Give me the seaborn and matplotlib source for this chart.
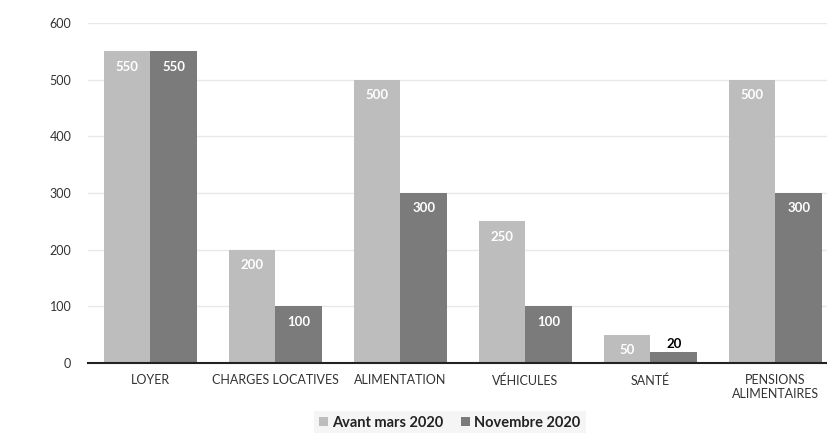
import matplotlib
matplotlib.use("Agg")
import matplotlib.pyplot as plt
import seaborn as sns
import pandas as pd

categories = ["LOYER", "CHARGES LOCATIVES", "ALIMENTATION", "VÉHICULES", "SANTÉ",
              "PENSIONS\nALIMENTAIRES"]
series_names = ["Avant mars 2020", "Novembre 2020"]
avant = [550, 200, 500, 250, 50, 500]
novembre = [550, 100, 300, 100, 20, 300]
y_ticks = [0, 100, 200, 300, 400, 500, 600]

df = pd.DataFrame({
    "categorie": categories * 2,
    "periode": [series_names[0]] * len(categories) + [series_names[1]] * len(categories),
    "montant": avant + novembre,
})

sns.set_theme(style="white")
plt.rcParams["font.family"] = ["Lato", "DejaVu Sans"]

colors = {series_names[0]: "#bdbdbd", series_names[1]: "#7b7b7b"}

fig = plt.figure(figsize=(8.28, 4.33), dpi=100)
ax = fig.add_axes([88 / 828, 70 / 433, 750 / 828, 340 / 433])

sns.barplot(data=df, x="categorie", y="montant", hue="periode", order=categories,
            hue_order=series_names, palette=colors, width=0.75, gap=0,
            saturation=1, edgecolor="none", linewidth=0, ax=ax)

ax.set_xlim(-0.5, len(categories) - 0.5)
ax.set_ylim(0, 600)
ax.set_yticks(y_ticks)
ax.set_yticklabels([str(v) for v in y_ticks])
ax.yaxis.grid(True, color="#e8e8e8", linewidth=1)
ax.set_axisbelow(True)
ax.set_xlabel("")
ax.set_ylabel("")

for side in ["top", "right", "left"]:
    ax.spines[side].set_visible(False)
ax.spines["bottom"].set_color("#222222")
ax.spines["bottom"].set_linewidth(1.5)

ax.tick_params(axis="y", length=0, labelsize=9, labelcolor="#333333", pad=12)
ax.tick_params(axis="x", which="major", length=0, labelsize=9, labelcolor="#333333", pad=8)
ax.set_xticks([i - 0.5 for i in range(len(categories) + 1)], minor=True)
ax.tick_params(axis="x", which="minor", length=4, width=1.5, color="#222222", direction="out")

# value labels: white inside the bar top, black above small bars
for container in ax.containers:
    for bar in container:
        h = bar.get_height()
        x = bar.get_x() + bar.get_width() / 2
        if h >= 40:
            ax.annotate(f"{h:.0f}", (x, h), xytext=(0, -11), textcoords="offset points",
                        ha="center", va="center", color="white", fontsize=9.5,
                        fontweight="bold")
        else:
            ax.annotate(f"{h:.0f}", (x, h), xytext=(0, 1), textcoords="offset points",
                        ha="center", va="bottom", color="black", fontsize=9.5,
                        fontweight="bold")

leg = ax.legend(loc="center", bbox_to_anchor=(450 / 828, 10 / 433),
                bbox_transform=fig.transFigure, ncol=2, frameon=True,
                fontsize=10.5, handlelength=0.6, handleheight=0.6, handletextpad=0.3,
                columnspacing=1.2, borderpad=0.35, borderaxespad=0, fancybox=False)
leg.get_frame().set_facecolor("#f3f3f3")
leg.get_frame().set_edgecolor("none")
for t in leg.get_texts():
    t.set_fontweight("bold")
    t.set_color("#222222")

fig.savefig("out.png", dpi=100)
